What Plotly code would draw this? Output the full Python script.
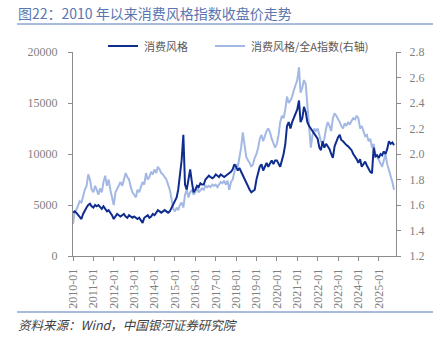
import pandas as pd
import plotly.graph_objects as go

# ---- data (monthly, 2010-01 .. 2025-10) ----
months = pd.date_range("2010-01-01", periods=190, freq="MS")

consumer_index = [
    # 2010
    4250, 4375, 4250, 4000, 3750, 3625, 4125, 4500, 4750, 5000, 5125, 4875,
    # 2011
    4750, 5000, 4875, 5000, 4750, 4625, 4875, 4625, 4375, 4500, 4250, 4000,
    # 2012
    3625, 3875, 4125, 4000, 3875, 4000, 4125, 3875, 3750, 4000, 3875, 3750,
    # 2013
    3875, 3750, 3625, 3750, 3500, 3250, 3750, 3875, 4000, 3750, 3875, 4125,
    # 2014
    4000, 4250, 4500, 4375, 4250, 4375, 4500, 4375, 4250, 4375, 4750, 5125,
    # 2015
    5375, 5750, 6500, 8125, 9375, 11875, 7000, 6500, 7500, 8500, 7250, 6250,
    # 2016
    6500, 6875, 6750, 7125, 7000, 7000, 7500, 7750, 7875, 7750, 7625, 7750,
    # 2017
    8000, 7875, 7750, 8000, 7875, 7750, 7875, 8000, 8125, 8250, 8500, 9000,
    # 2018
    8750, 8375, 8625, 8250, 8000, 7500, 7250, 6875, 6500, 6250, 6375, 6500,
    # 2019
    7500, 8250, 8750, 9000, 8375, 8750, 9125, 8750, 9125, 9375, 9000, 9375,
    # 2020
    9375, 9000, 8750, 9375, 10000, 11000, 12750, 13125, 12500, 13125, 13500, 14000,
    # 2021
    14375, 15250, 13125, 13500, 14625, 14125, 13125, 12750, 12500, 12250, 12000, 11875,
    # 2022
    11500, 10625, 10375, 11250, 10625, 11000, 10750, 10500, 10000, 9625, 10750, 11250,
    # 2023
    11625, 11875, 11375, 11250, 11000, 10875, 10750, 10500, 10375, 10000, 9750, 9500,
    # 2024
    9125, 9500, 8750, 9000, 9250, 8875, 8500, 8250, 8125, 10625, 9750, 9875,
    # 2025
    9625, 10000, 9875, 10250, 10000, 10500, 11250, 11000, 11125, 10875,
]

consumer_vs_all_a = [
    # 2010
    1.45, 1.55, 1.56, 1.60, 1.63, 1.62, 1.68, 1.72, 1.75, 1.84, 1.80, 1.72,
    # 2011
    1.70, 1.75, 1.72, 1.68, 1.73, 1.70, 1.78, 1.83, 1.75, 1.80, 1.72, 1.65,
    # 2012
    1.60, 1.70, 1.73, 1.76, 1.78, 1.75, 1.80, 1.85, 1.82, 1.80, 1.74, 1.70,
    # 2013
    1.68, 1.66, 1.72, 1.70, 1.74, 1.78, 1.76, 1.85, 1.80, 1.82, 1.86, 1.84,
    # 2014
    1.88, 1.85, 1.90, 1.88, 1.85, 1.84, 1.82, 1.80, 1.76, 1.72, 1.65, 1.57,
    # 2015
    1.55, 1.58, 1.56, 1.60, 1.62, 1.58, 1.68, 1.72, 1.66, 1.70, 1.72, 1.68,
    # 2016
    1.70, 1.74, 1.70, 1.72, 1.73, 1.72, 1.75, 1.74, 1.75, 1.74, 1.76, 1.75,
    # 2017
    1.76, 1.74, 1.76, 1.78, 1.77, 1.79, 1.76, 1.79, 1.72, 1.78, 1.80, 1.85,
    # 2018
    1.92, 1.90, 1.96, 2.05, 2.17, 2.08, 1.98, 1.95, 1.93, 1.90, 1.92, 1.97,
    # 2019
    2.00, 2.05, 2.12, 2.15, 2.10, 2.14, 2.18, 2.20, 2.17, 2.12, 2.08, 2.05,
    # 2020
    2.08, 2.15, 2.25, 2.30, 2.28, 2.35, 2.45, 2.40, 2.42, 2.45, 2.50, 2.55,
    # 2021
    2.58, 2.68, 2.48, 2.52, 2.58, 2.55, 2.38, 2.25, 2.05, 2.15, 2.20, 2.18,
    # 2022
    2.20, 2.15, 2.10, 2.08, 2.12, 2.20, 2.25, 2.22, 2.18, 2.28, 2.32, 2.30,
    # 2023
    2.28, 2.25, 2.22, 2.20, 2.24, 2.22, 2.25, 2.23, 2.26, 2.28, 2.27, 2.30,
    # 2024
    2.28, 2.20, 2.22, 2.18, 2.14, 2.15, 2.10, 2.12, 2.05, 2.08, 2.00, 1.98,
    # 2025
    1.95, 1.92, 1.90, 1.95, 2.00, 1.92, 1.88, 1.82, 1.78, 1.72,
]

year_ticks = [f"{y}-01-01" for y in range(2010, 2026)]
year_labels = [f"{y}-01" for y in range(2010, 2026)]
left_ticks = [0, 5000, 10000, 15000, 20000]
left_labels = ["0", "5000", "10000", "15000", "20000"]
right_ticks = [1.2, 1.4, 1.6, 1.8, 2.0, 2.2, 2.4, 2.6, 2.8]

name_dark = "消费风格"
name_light = "消费风格/全A指数(右轴)"
title_text = "图22：2010 年以来消费风格指数收盘价走势"
source_text = "资料来源：Wind，中国银河证券研究院"

DARK = "#0e2d8e"
LIGHT = "#a3b9e4"
AXIS = "#8c8c8c"
TICKFONT = dict(family="Liberation Serif, Times New Roman, serif", size=12, color="#7f7f7f")
CJK = "Noto Sans CJK SC, sans-serif"

# ---- geometry (pixels) ----
W, H = 446, 337
L, R, T, B = 73, 396, 52, 256
PW, PH = R - L, B - T


def px(x):
    return (x - L) / PW


def py(y):
    return (B - y) / PH


fig = go.Figure()
fig.add_trace(go.Scatter(x=months, y=consumer_vs_all_a, yaxis="y", mode="lines",
                         line=dict(color=LIGHT, width=2), name=name_light, showlegend=False))
fig.add_trace(go.Scatter(x=months, y=consumer_index, yaxis="y2", mode="lines",
                         line=dict(color=DARK, width=2), name=name_dark, showlegend=False))

fig.update_layout(
    width=W, height=H,
    margin=dict(l=L, r=W - R, t=T, b=H - B, pad=0),
    paper_bgcolor="white", plot_bgcolor="white",
    xaxis=dict(type="date", range=["2010-01-01", "2025-11-05"],
               tickvals=year_ticks, ticktext=year_labels, tickangle=-90,
               showgrid=False, zeroline=False, showline=True, linecolor=AXIS, linewidth=1,
               ticks="outside", ticklen=4, tickcolor=AXIS, tickfont=TICKFONT,
               ticklabelstandoff=3),
    yaxis=dict(side="right", range=[1.2, 2.8], tickvals=right_ticks, tickformat=".1f",
               showgrid=False, zeroline=False, showline=True, linecolor=AXIS, linewidth=1,
               ticks="outside", ticklen=4, tickcolor=AXIS, tickfont=TICKFONT,
               ticklabelstandoff=6),
    yaxis2=dict(side="left", overlaying="y", anchor="x", range=[0, 20000],
                tickvals=left_ticks, ticktext=left_labels,
                showgrid=False, zeroline=False, showline=True, linecolor=AXIS, linewidth=1,
                ticks="outside", ticklen=4, tickcolor=AXIS, tickfont=TICKFONT,
                ticklabelstandoff=8),
)

shapes = [
    dict(type="line", xref="paper", yref="paper", x0=px(17), x1=px(433), y0=py(24), y1=py(24),
         line=dict(color="#8ea6d2", width=1.5)),
    dict(type="line", xref="paper", yref="paper", x0=px(17), x1=px(433), y0=py(312), y1=py(312),
         line=dict(color="#8ea6d2", width=1.5)),
    dict(type="line", xref="paper", yref="paper", x0=px(108), x1=px(138), y0=py(46), y1=py(46),
         line=dict(color=DARK, width=2)),
    dict(type="line", xref="paper", yref="paper", x0=px(215), x1=px(245), y0=py(46), y1=py(46),
         line=dict(color=LIGHT, width=2)),
]

annotations = [
    dict(text=title_text, xref="paper", yref="paper", x=px(16), y=py(13), xanchor="left",
         yanchor="middle", showarrow=False, font=dict(family=CJK, size=14, color="#5876b0")),
    dict(text=name_dark, xref="paper", yref="paper", x=px(142), y=py(46), xanchor="left",
         yanchor="middle", showarrow=False, font=dict(family=CJK, size=11, color="#595959")),
    dict(text=name_light, xref="paper", yref="paper", x=px(249), y=py(46), xanchor="left",
         yanchor="middle", showarrow=False, font=dict(family=CJK, size=11, color="#595959")),
    dict(text=f"<i>{source_text}</i>", xref="paper", yref="paper", x=px(16), y=py(324),
         xanchor="left", yanchor="middle", showarrow=False,
         font=dict(family=CJK, size=12.5, color="#404040")),
]

fig.update_layout(shapes=shapes, annotations=annotations)
fig.write_html("out.html")
